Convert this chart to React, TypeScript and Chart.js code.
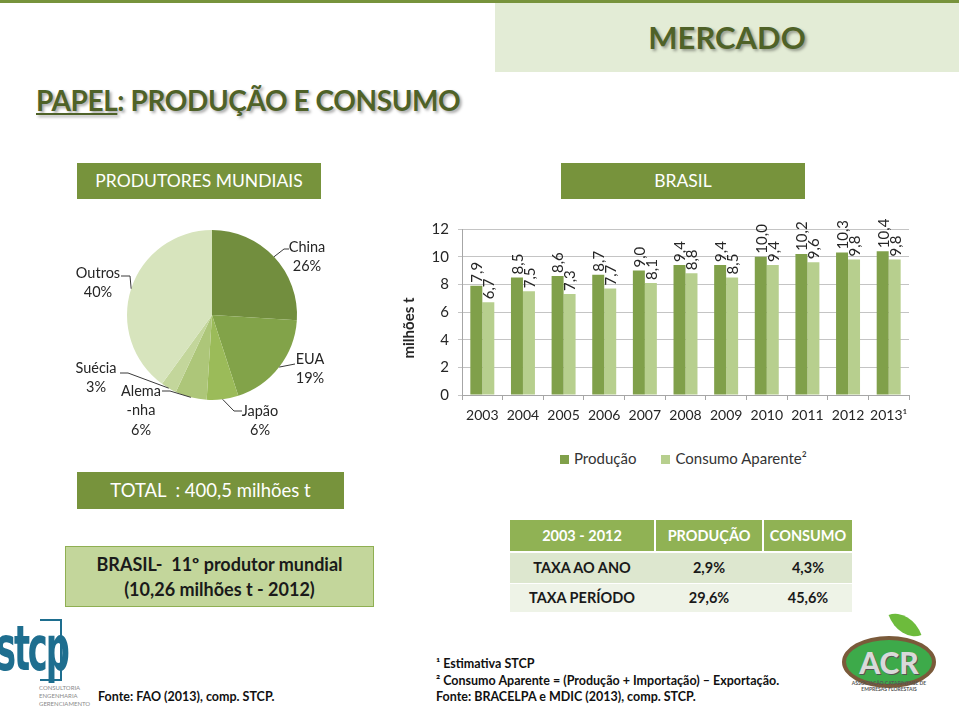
import React, { useEffect, useRef } from 'react';
import { Chart, registerables } from 'chart.js';

Chart.register(...registerables);

// ---------- DATA ----------
const years = ['2003', '2004', '2005', '2006', '2007', '2008', '2009', '2010', '2011', '2012', '2013¹'];
const producao = [7.9, 8.5, 8.6, 8.7, 9.0, 9.4, 9.4, 10.0, 10.2, 10.3, 10.4];
const consumo = [6.7, 7.5, 7.3, 7.7, 8.1, 8.8, 8.5, 9.4, 9.6, 9.8, 9.8];
const seriesNames = ['Produção', 'Consumo Aparente²'];
const yTicks = [0, 2, 4, 6, 8, 10, 12];

const producers = ['China', 'EUA', 'Japão', 'Alemanha', 'Suécia', 'Outros'];
const producerNameLines = [['China'], ['EUA'], ['Japão'], ['Alema', '-nha'], ['Suécia'], ['Outros']];
const producerShares = [26, 19, 6, 6, 3, 40];

const tableHeader = ['2003 - 2012', 'PRODUÇÃO', 'CONSUMO'];
const tableRows = [
  ['TAXA AO ANO', '2,9%', '4,3%'],
  ['TAXA PERÍODO', '29,6%', '45,6%'],
];

// ---------- STYLE / LAYOUT ----------
const FONT = 'Lato, "Open Sans", sans-serif';
const barColors = ['#80a04a', '#b7cf8e'];
const pieColors = ['#728e3e', '#82a349', '#9bbb59', '#adc679', '#c3d69b', '#d7e4bd'];
const darkGreen = '#77933c';

const PIE_LEFT = 40;
const PIE_TOP = 205;
const PIE_W = 344;
const PIE_H = 245;

const BAR_LEFT = 390;
const BAR_TOP = 200;
const BAR_W = 540;
const BAR_H = 230;

// label anchor (page coords) and leader-line elbows for each pie label
const pieLabelLayout = [
  { x: 307, y: 247, path: [[284, 249], [289, 249]] },
  { x: 310, y: 359, path: [[295, 364]] },
  { x: 260, y: 411, path: [[234, 411], [242, 411]] },
  { x: 141, y: 391, path: [[170, 391], [162, 391]] },
  { x: 96, y: 368, path: [[128, 373], [120, 373]] },
  { x: 98, y: 273, path: [[130, 276], [121, 276]] },
];

const pieLabelPlugin = {
  id: 'pieLabels',
  afterDatasetsDraw(chart: any) {
    const ctx = chart.ctx;
    const arcs = chart.getDatasetMeta(0).data;
    ctx.save();
    ctx.strokeStyle = '#3a3a3a';
    ctx.lineWidth = 1;
    ctx.fillStyle = '#262626';
    ctx.font = `14.5px ${FONT}`;
    ctx.textAlign = 'center';
    ctx.textBaseline = 'middle';
    arcs.forEach((arc: any, i: number) => {
      const p = arc.getProps(['x', 'y', 'startAngle', 'endAngle', 'outerRadius'], true);
      const mid = (p.startAngle + p.endAngle) / 2;
      const sx = p.x + Math.cos(mid) * p.outerRadius;
      const sy = p.y + Math.sin(mid) * p.outerRadius;
      const lay = pieLabelLayout[i];
      ctx.beginPath();
      ctx.moveTo(sx, sy);
      lay.path.forEach(([px, py]) => ctx.lineTo(px - PIE_LEFT, py - PIE_TOP));
      ctx.stroke();
      const lines = [...producerNameLines[i], `${producerShares[i]}%`];
      lines.forEach((t, j) => ctx.fillText(t, lay.x - PIE_LEFT, lay.y - PIE_TOP + j * 19.5));
    });
    ctx.restore();
  },
};

const valueLabelPlugin = {
  id: 'valueLabels',
  afterDatasetsDraw(chart: any) {
    const ctx = chart.ctx;
    ctx.save();
    ctx.font = `15px ${FONT}`;
    ctx.fillStyle = '#262626';
    ctx.textAlign = 'left';
    ctx.textBaseline = 'middle';
    chart.data.datasets.forEach((ds: any, di: number) => {
      chart.getDatasetMeta(di).data.forEach((bar: any, i: number) => {
        const v = ds.data[i];
        ctx.save();
        ctx.translate(bar.x, bar.y - 3);
        ctx.rotate(-Math.PI / 2);
        ctx.fillText(v.toFixed(1).replace('.', ','), 0, 1);
        ctx.restore();
      });
    });
    ctx.restore();
  },
};

function abs(left: number, top: number, width: number, height: number, extra: any = {}) {
  return { position: 'absolute', left, top, width, height, boxSizing: 'border-box', ...extra } as any;
}

export default function App() {
  const pieRef = useRef<HTMLCanvasElement>(null);
  const barRef = useRef<HTMLCanvasElement>(null);

  useEffect(() => {
    const pie = new Chart(pieRef.current as HTMLCanvasElement, {
      type: 'pie',
      data: {
        labels: producers,
        datasets: [{ data: producerShares, backgroundColor: pieColors, borderWidth: 0 }],
      },
      options: {
        responsive: false,
        animation: false,
        layout: { padding: { top: 25, left: 25, right: 25, bottom: 50 } },
        plugins: { legend: { display: false }, tooltip: { enabled: false } },
      },
      plugins: [pieLabelPlugin],
    } as any);

    const bar = new Chart(barRef.current as HTMLCanvasElement, {
      type: 'bar',
      data: {
        labels: years,
        datasets: [
          { label: seriesNames[0], data: producao, backgroundColor: barColors[0], categoryPercentage: 0.59, barPercentage: 1 },
          { label: seriesNames[1], data: consumo, backgroundColor: barColors[1], categoryPercentage: 0.59, barPercentage: 1 },
        ],
      },
      options: {
        responsive: false,
        animation: false,
        layout: { padding: { top: 29, right: 21, bottom: 0, left: 0 } },
        plugins: { legend: { display: false }, tooltip: { enabled: false } },
        scales: {
          x: {
            grid: { display: true, drawOnChartArea: false, offset: true, tickLength: 5, color: '#a6a6a6' },
            border: { color: '#a6a6a6' },
            ticks: { color: '#262626', font: { family: FONT, size: 14 }, padding: 7, maxRotation: 0, autoSkip: false },
            afterFit: (s: any) => { s.height = 35; },
          },
          y: {
            min: 0,
            max: 12,
            afterBuildTicks: (s: any) => { s.ticks = yTicks.map((v) => ({ value: v })); },
            ticks: { color: '#262626', font: { family: FONT, size: 15 }, padding: 9 },
            grid: { color: '#c4c4c4', tickLength: 4 },
            border: { color: '#a6a6a6' },
            afterFit: (s: any) => { s.width = 72; },
          },
        },
      },
      plugins: [valueLabelPlugin],
    } as any);

    return () => {
      pie.destroy();
      bar.destroy();
    };
  }, []);

  const titleShadow = '2px 2px 3px rgba(0,0,0,0.35)';
  const colX = [510, 656, 764];
  const colW = [144, 106, 88];
  const rowTop = [553, 584];
  const rowH = [30, 28];
  const rowBg = ['#dde7cf', '#eef3e7'];

  return (
    <div style={abs(0, 0, 959, 709, { background: '#ffffff', overflow: 'hidden', fontFamily: FONT })}>
      {/* top bar */}
      <div style={abs(0, 0, 959, 3, { background: darkGreen })} />
      {/* MERCADO */}
      <div style={abs(495, 3, 464, 69, { background: '#e3ecd6', color: '#4f6228', fontWeight: 700, fontSize: 31, lineHeight: '69px', textAlign: 'center', textShadow: titleShadow })}>
        MERCADO
      </div>
      {/* Title */}
      <div style={abs(36, 80, 500, 40, { color: '#4f6228', fontWeight: 700, fontSize: 28, lineHeight: '40px', letterSpacing: -0.4, textShadow: titleShadow, whiteSpace: 'nowrap' })}>
        <span style={{ textDecoration: 'underline' }}>PAPEL</span>: PRODUÇÃO E CONSUMO
      </div>
      {/* section boxes */}
      <div style={abs(77, 163, 244, 36, { background: darkGreen, color: '#fff', fontSize: 17.5, lineHeight: '36px', textAlign: 'center' })}>
        PRODUTORES MUNDIAIS
      </div>
      <div style={abs(561, 163, 244, 36, { background: darkGreen, color: '#fff', fontSize: 17.5, lineHeight: '36px', textAlign: 'center' })}>
        BRASIL
      </div>

      {/* pie chart */}
      <canvas ref={pieRef} width={PIE_W} height={PIE_H} style={abs(PIE_LEFT, PIE_TOP, PIE_W, PIE_H)} />

      {/* bar chart */}
      <canvas ref={barRef} width={BAR_W} height={BAR_H} style={abs(BAR_LEFT, BAR_TOP, BAR_W, BAR_H)} />
      <div style={abs(408 - 60, 328 - 12, 120, 24, { transform: 'rotate(-90deg)', transformOrigin: '60px 12px', textAlign: 'center', fontWeight: 700, fontSize: 15, lineHeight: '24px', color: '#262626' })}>
        milhões t
      </div>

      {/* legend */}
      <div style={abs(560, 448, 340, 20, { fontSize: 15, lineHeight: '20px', color: '#333', whiteSpace: 'nowrap' })}>
        <span style={{ display: 'inline-block', width: 9, height: 9, background: barColors[0], marginRight: 5, verticalAlign: 'middle', position: 'relative', top: -1 }} />
        <span>{seriesNames[0]}</span>
        <span style={{ display: 'inline-block', width: 25 }} />
        <span style={{ display: 'inline-block', width: 9, height: 9, background: barColors[1], marginRight: 5, verticalAlign: 'middle', position: 'relative', top: -1 }} />
        <span>{seriesNames[1]}</span>
      </div>

      {/* TOTAL */}
      <div style={abs(77, 472, 267, 37, { background: darkGreen, color: '#fff', fontSize: 18.5, lineHeight: '37px', textAlign: 'center', whiteSpace: 'pre' })}>
        TOTAL  : 400,5 milhões t
      </div>
      {/* BRASIL box */}
      <div style={abs(65, 546, 309, 61, { background: '#c3d69b', border: '1px solid #8faf52', color: '#1a1a1a', fontWeight: 700, fontSize: 18, lineHeight: '25px', textAlign: 'center', paddingTop: 5, whiteSpace: 'pre' })}>
        {'BRASIL-  11º produtor mundial\n(10,26 milhões t - 2012)'}
      </div>

      {/* table */}
      {tableHeader.map((t, j) => (
        <div key={'h' + j} style={abs(colX[j], 520, colW[j], 31, { background: '#90b254', color: '#fff', fontWeight: 700, fontSize: 14.5, lineHeight: '31px', textAlign: 'center' })}>
          {t}
        </div>
      ))}
      {tableRows.map((row, r) => (
        <React.Fragment key={'r' + r}>
          <div style={abs(colX[0], rowTop[r], colX[2] + colW[2] - colX[0], rowH[r], { background: rowBg[r] })} />
          {row.map((t, j) => (
            <div key={j} style={abs(colX[j], rowTop[r], colW[j], rowH[r], { color: '#1a1a1a', fontWeight: 700, fontSize: 14.5, lineHeight: rowH[r] + 'px', textAlign: 'center' })}>
              {t}
            </div>
          ))}
        </React.Fragment>
      ))}

      {/* STCP logo (approximation) */}
      <div style={abs(-4, 606, 80, 70, { color: '#1e6e8f', fontWeight: 700, fontSize: 52, lineHeight: '70px', fontFamily: '"Liberation Sans Narrow", "DejaVu Sans Condensed", sans-serif', transform: 'scale(0.72, 1.2)', transformOrigin: '0 0', letterSpacing: -3 })}>
        stcp
      </div>
      <div style={abs(40, 619, 22, 62, { borderTop: '2px solid #1e6e8f', borderRight: '2px solid #1e6e8f', borderBottom: '2px solid #1e6e8f' })} />
      <div style={abs(39, 684, 60, 24, { color: '#8a8a8a', fontSize: 6, lineHeight: '8px', whiteSpace: 'pre' })}>
        {'CONSULTORIA\nENGENHARIA\nGERENCIAMENTO'}
      </div>
      <div style={abs(98, 688, 200, 18, { color: '#111', fontWeight: 700, fontSize: 12.5, lineHeight: '18px', whiteSpace: 'nowrap' })}>
        Fonte: FAO (2013), comp. STCP.
      </div>

      {/* footnotes */}
      <div style={abs(436, 656, 400, 52, { color: '#111', fontWeight: 700, fontSize: 12.5, lineHeight: '16.5px', whiteSpace: 'pre' })}>
        {'¹ Estimativa STCP\n² Consumo Aparente = (Produção + Importação) – Exportação.\nFonte: BRACELPA e MDIC (2013), comp. STCP.'}
      </div>

      {/* ACR logo (approximation) */}
      <div style={abs(893, 610, 24, 30, { background: '#6dbb3c', borderRadius: '0 100% 0 100%', transform: 'rotate(-20deg)' })} />
      <div style={abs(842, 636, 94, 52, { background: '#3daa4a', border: '4px solid #7a5a3a', borderRadius: '50%', color: '#d9d9d9', fontWeight: 900, fontSize: 30, lineHeight: '44px', textAlign: 'center', textShadow: '1px 1px 0 #555' })}>
        ACR
      </div>
      <div style={abs(846, 680, 86, 14, { color: '#555', fontSize: 5, lineHeight: '6px', textAlign: 'center', fontWeight: 700, whiteSpace: 'pre' })}>
        {'ASSOCIAÇÃO CATARINENSE DE\nEMPRESAS FLORESTAIS'}
      </div>
    </div>
  );
}
